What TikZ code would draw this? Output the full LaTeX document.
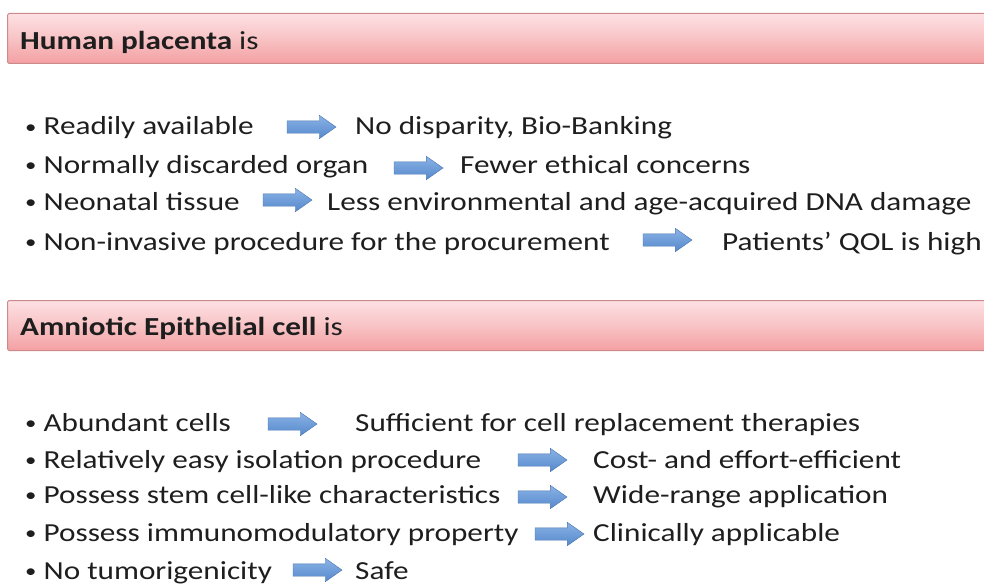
\documentclass[tikz,border=0pt]{standalone}
\usepackage{fontspec}
\setmainfont{Carlito}[FakeStretch=1.2]
\usetikzlibrary{shapes.arrows}
\definecolor{ink}{HTML}{1E1E1E}
\definecolor{pinktop}{HTML}{FDE1E4}
\definecolor{pinkmid}{HTML}{F8C3C5}
\definecolor{pinkbot}{HTML}{F4A0A2}
\definecolor{pinkline}{HTML}{CC8A8C}
\definecolor{arrtop}{HTML}{8AB3E6}
\definecolor{arrbot}{HTML}{5688CC}
\newcommand{\blt}{\raisebox{1.5pt}{\fontsize{19}{19}\selectfont •}\ }
\tikzstyle{banner} = [draw=pinkline, line width=1pt, rounded corners=1.5pt, top color=pinktop, bottom color=pinkbot, middle color=pinkmid, minimum width=990pt, minimum height=50pt, anchor=north west, inner sep=0pt]
\tikzstyle{head} = [anchor=base west, inner sep=0pt, text=ink, font=\fontsize{26}{30}\selectfont]
\tikzstyle{item} = [anchor=base west, inner sep=0pt, text=ink, font=\fontsize{26}{30}\selectfont]
\tikzstyle{arr} = [single arrow, draw=arrbot!85!black, line width=0.4pt, top color=arrtop, bottom color=arrbot, inner sep=6pt, outer sep=0pt, single arrow head extend=5.5pt, single arrow tip angle=70, minimum height=49pt, anchor=west]

\begin{document}
\begin{tikzpicture}[x=1pt, y=-1pt]
  \useasboundingbox (0,0) rectangle (984,583);
  % first block
  \node (b1) at (7,13) [banner] {};
  \node (h1) at (20,50) [head] {\textbf{Human placenta} is};
  \node (a1) at (25,135) [item] {\blt Readily available};
  \node (a2) at (25,173) [item] {\blt Normally discarded organ};
  \node (a3) at (25,210) [item] {\blt Neonatal tissue};
  \node (a4) at (25,250) [item] {\blt Non-invasive procedure for the procurement};
  \node (p1) at (287,127) [arr] {};
  \node (p2) at (394,168) [arr] {};
  \node (p3) at (263,200) [arr] {};
  \node (p4) at (643,240) [arr] {};
  \node (c1) at (355,135) [item] {No disparity, Bio-Banking};
  \node (c2) at (460,173) [item] {Fewer ethical concerns};
  \node (c3) at (327,210) [item] {Less environmental and age-acquired DNA damage};
  \node (c4) at (722,250) [item] {Patients’ QOL is high};
  % second block
  \node (b2) at (7,300) [banner] {};
  \node (h2) at (20,335) [head] {\textbf{Amniotic Epithelial cell} is};
  \node (d1) at (25,431) [item] {\blt Abundant cells};
  \node (d2) at (25,468) [item] {\blt Relatively easy isolation procedure};
  \node (d3) at (25,503) [item] {\blt Possess stem cell-like characteristics};
  \node (d4) at (25,541) [item] {\blt Possess immunomodulatory property};
  \node (d5) at (25,579) [item] {\blt No tumorigenicity};
  \node (q1) at (268,424) [arr] {};
  \node (q2) at (518,460) [arr] {};
  \node (q3) at (518,497) [arr] {};
  \node (q4) at (535,534) [arr] {};
  \node (q5) at (293,570) [arr] {};
  \node (e1) at (355,431) [item] {Sufficient for cell replacement therapies};
  \node (e2) at (593,468) [item] {Cost- and effort-efficient};
  \node (e3) at (593,503) [item] {Wide-range application};
  \node (e4) at (593,541) [item] {Clinically applicable};
  \node (e5) at (355,579) [item] {Safe};
\end{tikzpicture}
\end{document}
